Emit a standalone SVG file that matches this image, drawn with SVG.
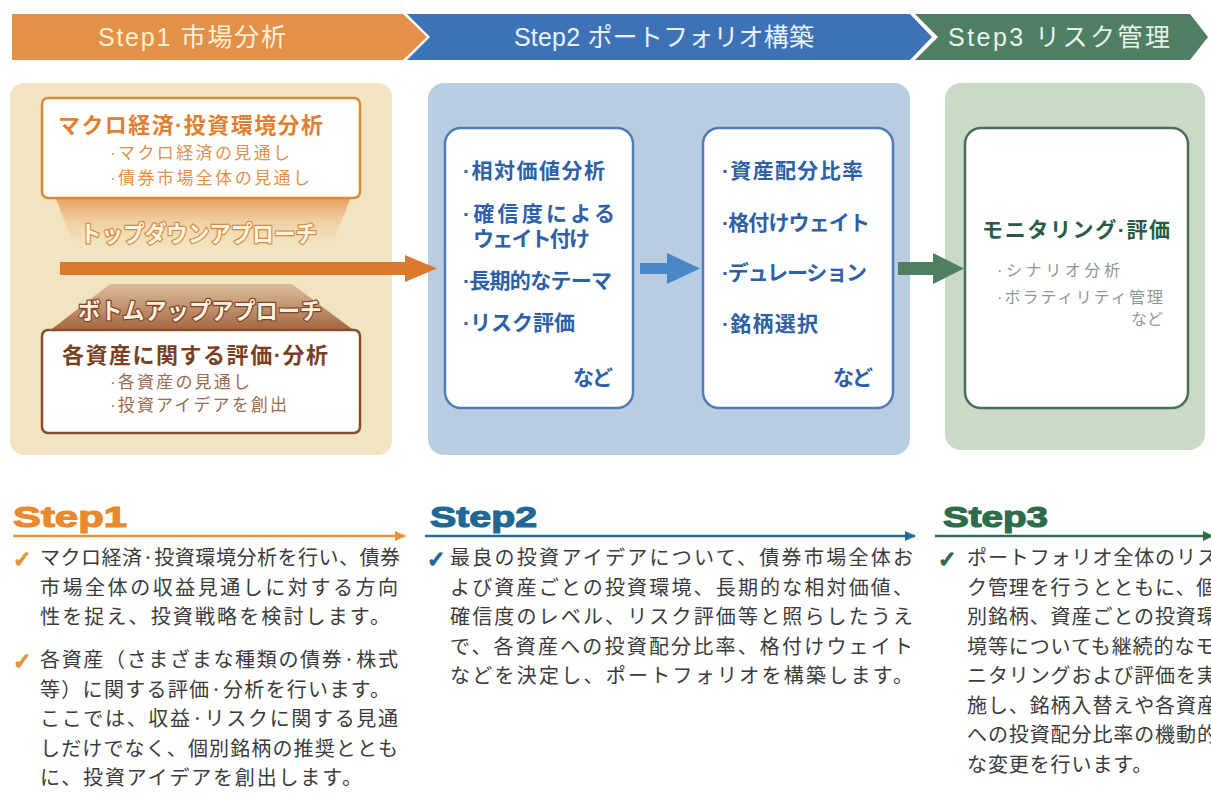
<svg xmlns="http://www.w3.org/2000/svg" width="1211" height="796" viewBox="0 0 1211 796">
<defs>
<style>
.jp{font-family:'Liberation Sans','Noto Sans CJK JP',sans-serif}
.hdr{font-size:25px;font-family:'Liberation Sans','Noto Sans CJK JP',sans-serif}
.body{font-size:20px;fill:#3b3b3b;font-family:'Noto Sans CJK JP',sans-serif}
.chk{font-size:22px;font-weight:bold;font-family:'DejaVu Sans',sans-serif;stroke-width:1.6}
.bl{font-size:21px;font-weight:bold;fill:#2D60A6}
.big{font-size:30px;font-weight:bold;font-family:'Liberation Sans',sans-serif;stroke-width:1.2}
.appr{font-size:23px;font-weight:bold;paint-order:stroke;stroke-width:2.5;stroke-linejoin:round}
</style>
<linearGradient id="gTop" x1="0" y1="0" x2="0" y2="1">
<stop offset="0" stop-color="#E99A55" stop-opacity="0.9"/>
<stop offset="1" stop-color="#F2E4C1" stop-opacity="0"/>
</linearGradient>
<linearGradient id="gBot" x1="0" y1="0" x2="0" y2="1">
<stop offset="0" stop-color="#B07050" stop-opacity="0.35"/>
<stop offset="1" stop-color="#A0603C" stop-opacity="0.95"/>
</linearGradient>
<marker id="mO" markerWidth="12" markerHeight="10" refX="10" refY="5" orient="auto" markerUnits="userSpaceOnUse"><path d="M0,0 L11,5 L0,10 Z" fill="#E8923A"/></marker>
<marker id="mB" markerWidth="12" markerHeight="10" refX="10" refY="5" orient="auto" markerUnits="userSpaceOnUse"><path d="M0,0 L11,5 L0,10 Z" fill="#236C96"/></marker>
<marker id="mG" markerWidth="12" markerHeight="10" refX="10" refY="5" orient="auto" markerUnits="userSpaceOnUse"><path d="M0,0 L11,5 L0,10 Z" fill="#2F6C4C"/></marker>
</defs>
<rect width="1211" height="796" fill="#ffffff"/>

<!-- header band -->
<g id="header">
<polygon points="12,14 403,14 427,37 403,60 12,60" fill="#E39148"/>
<polygon points="407,14 910,14 932,37 910,60 407,60 430,37" fill="#3E72B6"/>
<polygon points="915,14 1190,14 1208,37 1190,60 915,60 938,37" fill="#4E7E63"/>
<text class="hdr" x="98" y="46" fill="#FFF0D8" textLength="188">Step1 市場分析</text>
<text class="hdr" x="514" y="46" fill="#EAF2FB" textLength="300">Step2 ポートフォリオ構築</text>
<text class="hdr" x="948" y="46" fill="#E8F3EA" textLength="222">Step3 リスク管理</text>
</g>

<!-- panels -->
<g id="panel1">
<rect x="10" y="83" width="382" height="372" rx="14" fill="#F2E4C1"/>
</g>
<g id="panel2">
<rect x="428" y="83" width="482" height="372" rx="16" fill="#B8CCE2"/>
</g>
<g id="panel3">
<rect x="945" y="83" width="260" height="367" rx="16" fill="#CBDAC6"/>
</g>

<!-- step1 nodes -->
<g id="topdown">
<polygon points="56,199 350,199 330,252 76,252" fill="url(#gTop)"/>
<text class="jp appr" x="80" y="242" textLength="237" lengthAdjust="spacingAndGlyphs" fill="#FFF4E2" stroke="#D98A3E">トップダウンアプローチ</text>
</g>
<g id="bottomup">
<polygon points="110,284 292,284 352,329 52,329" fill="url(#gBot)"/>
<text class="jp appr" x="78" y="319" textLength="244" lengthAdjust="spacingAndGlyphs" fill="#FFF1E0" stroke="#7F4428">ボトムアップアプローチ</text>
</g>
<g id="macro">
<rect x="42" y="98" width="318" height="100" rx="6" fill="#ffffff" stroke="#E0883A" stroke-width="2.5"/>
<text class="jp" x="58" y="133" font-size="22" font-weight="bold" fill="#E07F2F" textLength="265">マクロ経済·投資環境分析</text>
<text class="jp" x="110" y="159" font-size="17" fill="#E0914C" textLength="180">·マクロ経済の見通し</text>
<text class="jp" x="110" y="184" font-size="17" fill="#E0914C" textLength="200">·債券市場全体の見通し</text>
</g>
<g id="asset">
<rect x="42" y="330" width="318" height="103" rx="6" fill="#ffffff" stroke="#8A4B2C" stroke-width="2.5"/>
<text class="jp" x="62" y="363" font-size="22" font-weight="bold" fill="#7A3F22" textLength="266">各資産に関する評価·分析</text>
<text class="jp" x="110" y="388" font-size="17" fill="#9A6B50" textLength="140">·各資産の見通し</text>
<text class="jp" x="110" y="411" font-size="17" fill="#9A6B50" textLength="177">·投資アイデアを創出</text>
</g>

<!-- step2 nodes -->
<g id="analysis">
<rect x="445" y="128" width="188" height="280" rx="16" fill="#ffffff" stroke="#4D7CB8" stroke-width="2.5"/>
<text class="jp bl" x="463" y="177.5" textLength="142">·相対価値分析</text>
<text class="jp bl" x="463" y="220.5" textLength="152">·確信度による</text>
<text class="jp bl" x="473" y="245.5" textLength="117">ウェイト付け</text>
<text class="jp bl" x="463" y="287.5" textLength="149">·長期的なテーマ</text>
<text class="jp bl" x="463" y="329.5" textLength="112">·リスク評価</text>
<text class="jp bl" x="573" y="384.5" textLength="40">など</text>
</g>
<g id="allocation">
<rect x="703" y="128" width="190" height="280" rx="16" fill="#ffffff" stroke="#4D7CB8" stroke-width="2.5"/>
<text class="jp bl" x="722" y="177.5" textLength="141">·資産配分比率</text>
<text class="jp bl" x="722" y="229.5" textLength="148">·格付けウェイト</text>
<text class="jp bl" x="722" y="279.5" textLength="145">·デュレーション</text>
<text class="jp bl" x="722" y="330.5" textLength="96">·銘柄選択</text>
<text class="jp bl" x="833" y="384.5" textLength="40">など</text>
</g>

<!-- step3 node -->
<g id="monitoring">
<rect x="965" y="128" width="223" height="280" rx="16" fill="#ffffff" stroke="#4A6E58" stroke-width="2.5"/>
<text class="jp" x="982" y="237" font-size="21" font-weight="bold" fill="#2C5A45" textLength="188">モニタリング·評価</text>
<text class="jp" x="997" y="276" font-size="16" fill="#8C9990" textLength="123">·シナリオ分析</text>
<text class="jp" x="997" y="303" font-size="16" fill="#8C9990" textLength="166">·ボラティリティ管理</text>
<text class="jp" x="1131" y="325" font-size="16" fill="#8C9990" textLength="32">など</text>
</g>

<!-- connectors -->
<g id="connectors">
<polygon points="60,262 405,262 405,255 437,268.5 405,282 405,275 60,275" fill="#D97A2F"/>
<polygon points="640,263 667,263 667,253 700,268.5 667,284 667,274 640,274" fill="#4A86C8"/>
<polygon points="898,262 933,262 933,253 964,268.5 933,284 933,275 898,275" fill="#4F7E60"/>
<line x1="13" y1="536" x2="405" y2="536" stroke="#E8923A" stroke-width="2.5" marker-end="url(#mO)"/>
<line x1="425" y1="536" x2="915" y2="536" stroke="#236C96" stroke-width="2.5" marker-end="url(#mB)"/>
<line x1="935" y1="536" x2="1213" y2="536" stroke="#2F6C4C" stroke-width="2.5" marker-end="url(#mG)"/>
</g>

<!-- bottom descriptions -->
<g id="step1-desc">
<text class="big" x="13" y="527" fill="#E8892E" stroke="#E8892E" textLength="114" lengthAdjust="spacingAndGlyphs">Step1</text>
<text class="chk" x="13" y="567" fill="#E8923A" stroke="#E8923A">✓</text>
<text class="chk" x="13" y="669" fill="#E8923A" stroke="#E8923A">✓</text>
<text class="body" x="40" y="565" textLength="360">マクロ経済·投資環境分析を行い、債券</text>
<text class="body" x="40" y="594.5" textLength="358">市場全体の収益見通しに対する方向</text>
<text class="body" x="40" y="624" textLength="350">性を捉え、投資戦略を検討します。</text>
<text class="body" x="40" y="667" textLength="358">各資産（さまざまな種類の債券·株式</text>
<text class="body" x="40" y="696.5" textLength="350">等）に関する評価·分析を行います。</text>
<text class="body" x="40" y="726" textLength="358">ここでは、収益·リスクに関する見通</text>
<text class="body" x="40" y="755.5" textLength="358">しだけでなく、個別銘柄の推奨ととも</text>
<text class="body" x="40" y="785" textLength="322">に、投資アイデアを創出します。</text>
</g>
<g id="step2-desc">
<text class="big" x="430" y="527" fill="#1F6893" stroke="#1F6893" textLength="107" lengthAdjust="spacingAndGlyphs">Step2</text>
<text class="chk" x="427" y="567" fill="#1F6893" stroke="#1F6893">✓</text>
<text class="body" x="450" y="565" textLength="463">最良の投資アイデアについて、債券市場全体お</text>
<text class="body" x="450" y="594.5" textLength="463">よび資産ごとの投資環境、長期的な相対価値、</text>
<text class="body" x="450" y="624" textLength="463">確信度のレベル、リスク評価等と照らしたうえ</text>
<text class="body" x="450" y="653.5" textLength="463">で、各資産への投資配分比率、格付けウェイト</text>
<text class="body" x="450" y="683" textLength="463">などを決定し、ポートフォリオを構築します。</text>
</g>
<g id="step3-desc">
<text class="big" x="943" y="527" fill="#2F6C4C" stroke="#2F6C4C" textLength="105" lengthAdjust="spacingAndGlyphs">Step3</text>
<text class="chk" x="938" y="567" fill="#2F6C4C" stroke="#2F6C4C">✓</text>
<text class="body" x="967" y="565" letter-spacing="0.9">ポートフォリオ全体のリス</text>
<text class="body" x="967" y="594.5" letter-spacing="0.9">ク管理を行うとともに、個</text>
<text class="body" x="967" y="624" letter-spacing="0.9">別銘柄、資産ごとの投資環</text>
<text class="body" x="967" y="653.5" letter-spacing="0.9">境等についても継続的なモ</text>
<text class="body" x="967" y="683" letter-spacing="0.9">ニタリングおよび評価を実</text>
<text class="body" x="967" y="712.5" letter-spacing="0.9">施し、銘柄入替えや各資産</text>
<text class="body" x="967" y="742" letter-spacing="0.9">への投資配分比率の機動的</text>
<text class="body" x="967" y="771.5" letter-spacing="0.9">な変更を行います。</text>
</g>
</svg>
